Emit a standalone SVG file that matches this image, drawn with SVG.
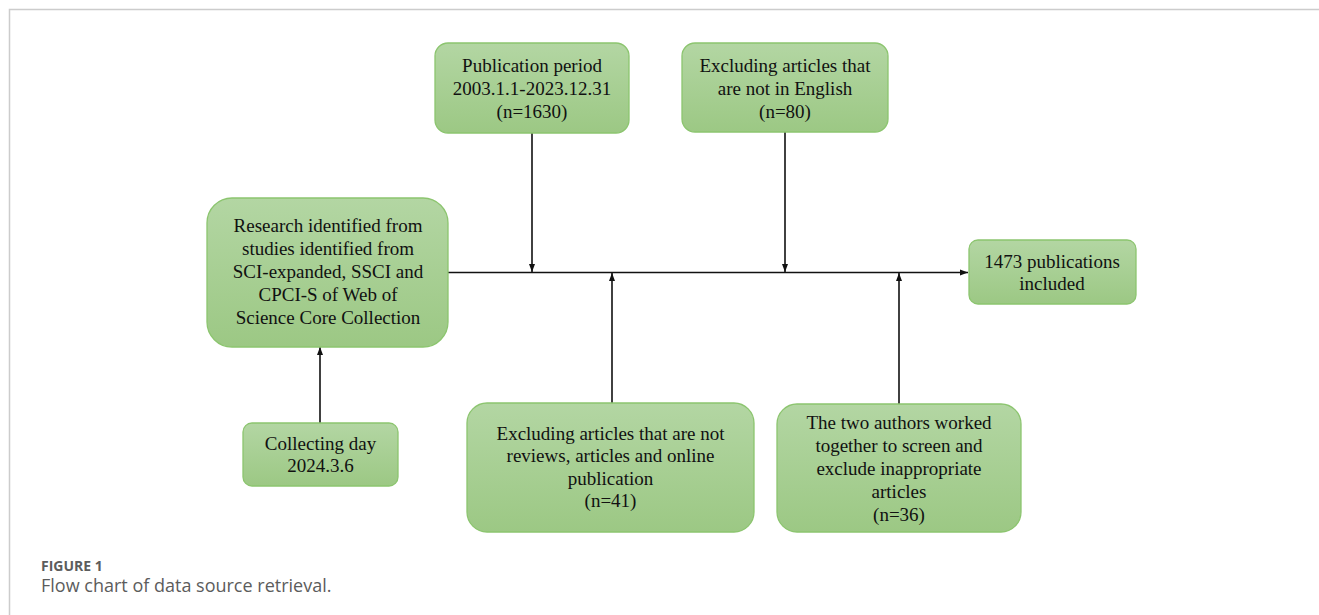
<svg xmlns="http://www.w3.org/2000/svg" width="1319" height="615" viewBox="0 0 1319 615">
<style>
.box{fill:url(#g);stroke:#8cc56f;stroke-width:1.3}
.t{font-family:"Liberation Serif","Times New Roman",serif;font-size:19px;fill:#111;text-anchor:middle}
.c{stroke:#111;stroke-width:1.6;fill:none}
.frame{stroke:#cccccc;stroke-width:1.5;fill:none}
.cap1{font-family:"Open Sans","Noto Sans",sans-serif;font-size:14px;font-weight:bold;fill:#5c5c5c}
.cap2{font-family:"Open Sans","Noto Sans",sans-serif;font-size:18px;fill:#5c5c5c}
</style>
<defs>
<linearGradient id="g" x1="0" y1="0" x2="0" y2="1">
<stop offset="0" stop-color="#b3d6a3"/>
<stop offset="1" stop-color="#9cc884"/>
</linearGradient>
<marker id="ah" viewBox="0 0 8 8" refX="8" refY="4" markerWidth="8" markerHeight="8" markerUnits="userSpaceOnUse" orient="auto">
<path d="M0,1 L8,4 L0,7 Z" fill="#111"/>
</marker>
</defs>
<rect width="1319" height="615" fill="#fff"/>
<path class="frame" d="M9.5,615 V9.5 H1319"/>

<g id="connectors">
<line class="c" x1="448" y1="272.5" x2="968" y2="272.5" marker-end="url(#ah)"/>
<line class="c" x1="532" y1="133" x2="532" y2="272" marker-end="url(#ah)"/>
<line class="c" x1="785" y1="132" x2="785" y2="272" marker-end="url(#ah)"/>
<line class="c" x1="612" y1="403" x2="612" y2="273" marker-end="url(#ah)"/>
<line class="c" x1="899" y1="404" x2="899" y2="273" marker-end="url(#ah)"/>
<line class="c" x1="320" y1="423" x2="320" y2="347" marker-end="url(#ah)"/>
</g>

<g id="node-period">
<rect class="box" x="435" y="43" width="194" height="90" rx="13"/>
<text class="t" x="532" y="72">Publication period</text>
<text class="t" x="532" y="95">2003.1.1-2023.12.31</text>
<text class="t" x="532" y="118">(n=1630)</text>
</g>

<g id="node-english">
<rect class="box" x="682" y="43" width="206" height="89" rx="13"/>
<text class="t" x="785" y="72">Excluding articles that</text>
<text class="t" x="785" y="95">are not in English</text>
<text class="t" x="785" y="118">(n=80)</text>
</g>

<g id="node-research">
<rect class="box" x="207" y="198" width="241" height="149" rx="25"/>
<text class="t" x="328" y="232">Research identified from</text>
<text class="t" x="328" y="255">studies identified from</text>
<text class="t" x="328" y="278">SCI-expanded, SSCI and</text>
<text class="t" x="328" y="301">CPCI-S of Web of</text>
<text class="t" x="328" y="324">Science Core Collection</text>
</g>

<g id="node-included">
<rect class="box" x="969" y="240" width="167" height="64" rx="9"/>
<text class="t" x="1052" y="268">1473 publications</text>
<text class="t" x="1052" y="290">included</text>
</g>

<g id="node-collecting">
<rect class="box" x="243" y="423" width="155" height="63" rx="9"/>
<text class="t" x="320.5" y="450">Collecting day</text>
<text class="t" x="320.5" y="472">2024.3.6</text>
</g>

<g id="node-types">
<rect class="box" x="467" y="403" width="287" height="129" rx="20"/>
<text class="t" x="610.5" y="440">Excluding articles that are not</text>
<text class="t" x="610.5" y="462">reviews, articles and online</text>
<text class="t" x="610.5" y="485">publication</text>
<text class="t" x="610.5" y="507">(n=41)</text>
</g>

<g id="node-screen">
<rect class="box" x="777" y="404" width="244" height="128" rx="20"/>
<text class="t" x="899" y="429">The two authors worked</text>
<text class="t" x="899" y="452">together to screen and</text>
<text class="t" x="899" y="475">exclude inappropriate</text>
<text class="t" x="899" y="498">articles</text>
<text class="t" x="899" y="521">(n=36)</text>
</g>

<text class="cap1" x="41" y="571">FIGURE 1</text>
<text class="cap2" x="41" y="592">Flow chart of data source retrieval.</text>
</svg>
